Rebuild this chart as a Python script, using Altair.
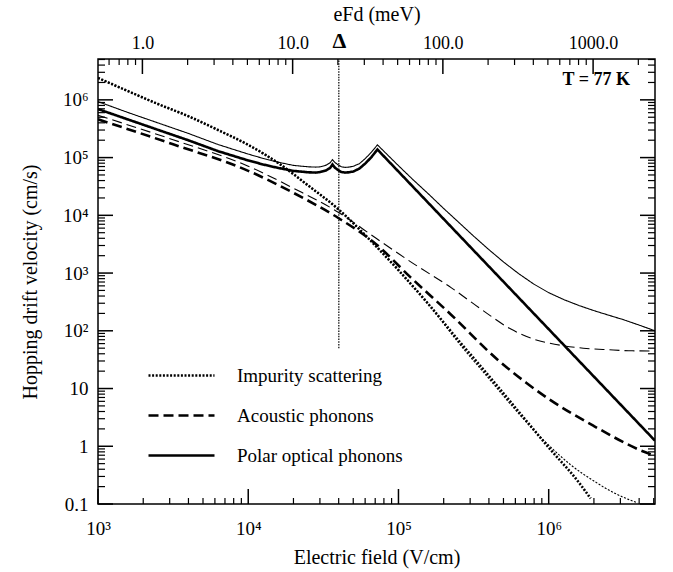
import altair as alt
import pandas as pd

# ---------------- data ----------------
mechanisms = ["Impurity scattering", "Acoustic phonons", "Polar optical phonons"]

imp_thick_E = [1e3, 1.6e3, 2.5e3, 4e3, 6.3e3, 1e4, 1.6e4, 2.5e4, 4e4, 6.3e4, 1e5, 1.6e5,
               2.5e5, 4e5, 6.3e5, 1e6, 1.6e6, 1.9e6]
imp_thick_V = [2.4e6, 1.4e6, 8.5e5, 5.2e5, 3.0e5, 1.66e5, 7.9e4, 3.3e4, 1.26e4, 4.0e3, 1.12e3, 280,
               69, 16.5, 4.0, 0.95, 0.23, 0.125]
imp_thin_E = [1e3, 1.6e3, 2.5e3, 4e3, 6.3e3, 1e4, 1.6e4, 2.5e4, 4e4, 6.3e4, 1e5, 1.6e5,
              2.5e5, 4e5, 6.3e5, 8.9e5, 1.12e6, 1.41e6, 2.0e6, 2.8e6, 3.9e6]
imp_thin_V = [2.4e6, 1.4e6, 8.5e5, 5.2e5, 3.0e5, 1.66e5, 7.9e4, 3.3e4, 1.26e4, 4.0e3, 1.12e3, 280,
              63, 14.8, 3.7, 1.41, 0.79, 0.47, 0.25, 0.15, 0.105]

ac_thick_E = [1e3, 3.16e3, 1e4, 2e4, 4e4, 7.1e4, 1.2e5, 2.24e5, 4.57e5, 7.08e5, 1e6, 2e6,
              4.27e6, 5.1e6]
ac_thick_V = [4.6e5, 1.7e5, 5.9e4, 2.45e4, 8.9e3, 3.16e3, 850, 190, 31.6, 12.6, 6.6, 2.24,
              0.81, 0.68]
ac_thin_E = [1e3, 3.16e3, 1e4, 2e4, 4e4, 7.1e4, 1.2e5, 2.24e5, 3.7e5, 5.6e5, 7.9e5, 1.12e6,
             1.7e6, 2.5e6, 3.6e6, 5.1e6]
ac_thin_V = [5.4e5, 2.04e5, 7.1e4, 2.95e4, 1.12e4, 4.0e3, 1.58e3, 560, 219, 107, 72, 58,
             50, 47, 45, 44.7]

pol_E_low = [1e3, 1.585e3, 2.512e3, 3.981e3, 6.31e3, 1e4, 1.259e4, 1.585e4, 1.995e4, 2.512e4,
             2.818e4, 3.02e4, 3.311e4, 3.508e4, 3.639e4, 3.758e4, 3.981e4, 4.169e4, 4.416e4,
             4.677e4, 5.012e4, 5.495e4, 6.026e4, 6.607e4, 7.244e4]
pol_thick_E = pol_E_low + [5.1e6]
pol_thick_V = [6.92e5, 4.57e5, 3.02e5, 2.0e5, 1.29e5, 8.91e4, 7.59e4, 6.61e4, 5.89e4, 5.56e4,
               5.5e4, 5.62e4, 6.03e4, 6.61e4, 7.59e4, 6.76e4, 6.03e4, 5.62e4, 5.5e4,
               5.56e4, 5.75e4, 6.46e4, 7.94e4, 1.02e5, 1.38e5, 1.25]
pol_thin_E = pol_E_low + [1e5, 1.259e5, 1.585e5, 1.995e5, 2.512e5, 3.162e5, 3.981e5, 5.012e5,
                          6.31e5, 7.943e5, 1e6, 1.259e6, 1.585e6, 1.995e6, 2.512e6, 3.162e6,
                          3.981e6, 5.1e6]
pol_thin_V = [9.33e5, 6.03e5, 3.98e5, 2.63e5, 1.68e5, 1.15e5, 9.66e4, 8.32e4, 7.33e4, 6.92e4,
              6.84e4, 6.92e4, 7.41e4, 8.13e4, 9.23e4, 8.32e4, 7.41e4, 6.92e4, 6.76e4,
              6.84e4, 7.08e4, 7.85e4, 9.66e4, 1.245e5, 1.66e5,
              7.24e4, 4.07e4, 2.34e4, 1.32e4, 7.6e3, 4.37e3, 2.57e3, 1.55e3,
              977, 646, 457, 347, 275, 224, 186, 155, 126, 100]

# axes / ticks
x_domain = [1e3, 5.1e6]
y_domain = [0.1, 5.1e6]
x_major = [1e3, 1e4, 1e5, 1e6]
x_major_labels = ["10³", "10⁴", "10⁵", "10⁶"]
x_minor = [k * 10 ** p for p in range(3, 7) for k in range(2, 10) if k * 10 ** p <= 5.1e6]
y_major = [0.1, 1, 10, 100, 1e3, 1e4, 1e5, 1e6]
y_major_labels = ["0.1", "1", "10", "10²", "10³", "10⁴", "10⁵", "10⁶"]
y_minor = [k * 10.0 ** p for p in range(-1, 7) for k in range(2, 10) if k * 10.0 ** p <= 5.1e6]

meV_per_unit = 1975.0          # V/cm corresponding to eFd = 1 meV
top_major_meV = [1, 10, 100, 1000]
top_major_labels = ["1.0", "10.0", "100.0", "1000.0"]
top_minor_meV = [0.6, 0.7, 0.8, 0.9] + [k * 10 ** p for p in range(0, 3) for k in range(2, 10)] + [2000]
delta_meV = 20.3
delta_line_bottom_V = 50

# ---------------- build tables ----------------
rows = []
def add(E, V, mech, variant):
    for e, v in zip(E, V):
        rows.append({"E": e, "V": v, "mech": mech, "variant": variant, "series": mech + variant})

add(imp_thick_E, imp_thick_V, mechanisms[0], "thick")
add(imp_thin_E, imp_thin_V, mechanisms[0], "thin")
add(ac_thick_E, ac_thick_V, mechanisms[1], "thick")
add(ac_thin_E, ac_thin_V, mechanisms[1], "thin")
add(pol_thick_E, pol_thick_V, mechanisms[2], "thick")
add(pol_thin_E, pol_thin_V, mechanisms[2], "thin")
df = pd.DataFrame(rows)

W, H = 557, 445
FONT = "Liberation Serif"

xs = alt.Scale(type="log", domain=x_domain, nice=False)
ys = alt.Scale(type="log", domain=y_domain, nice=False)


def lab_expr(values, labels):
    expr = "''"
    for v, l in reversed(list(zip(values, labels))):
        expr = f"abs(datum.value/{v} - 1) < 1e-6 ? '{l}' : ({expr})"
    return expr


dash = alt.StrokeDash(
    "mech:N",
    scale=alt.Scale(domain=mechanisms, range=[[2, 1.6], [10, 5], [1, 0]]),
    legend=alt.Legend(
        orient="none", legendX=71, legendY=304, title=None,
        symbolType="M-3,0H3", symbolSize=484, symbolStrokeWidth=2.4,
        symbolStrokeColor="black", symbolFillColor="transparent",
        labelFont=FONT, labelFontSize=19, labelColor="black", labelOffset=43,
        labelLimit=0, rowPadding=17, padding=0,
    ),
)
width_enc = alt.StrokeWidth("variant:N", scale=alt.Scale(domain=["thick", "thin"], range=[2.6, 1.1]),
                            legend=None)

bottom_axis = alt.Axis(values=x_major, labelExpr=lab_expr(x_major, x_major_labels), ticks=False,
                       domain=False, grid=False, labelFlush=False, labelOverlap=False,
                       labelFont=FONT, labelFontSize=19, labelColor="black", labelPadding=15,
                       title="Electric field  (V/cm)", titleFont=FONT, titleFontSize=20,
                       titleFontWeight="normal", titleColor="black", titlePadding=9)
left_axis = alt.Axis(values=y_major, labelExpr=lab_expr(y_major, y_major_labels), ticks=False,
                     domain=False, grid=False, labelFlush=False, labelOverlap=False,
                     labelFont=FONT, labelFontSize=19, labelColor="black", labelPadding=10,
                     title="Hopping drift velocity  (cm/s)", titleFont=FONT, titleFontSize=20,
                     titleFontWeight="normal", titleColor="black", titlePadding=22)

base = alt.Chart(df)
lines_other = base.transform_filter(alt.datum.mech != mechanisms[2]).mark_line(
    interpolate="monotone", clip=True, color="black").encode(
    x=alt.X("E:Q", scale=xs, axis=bottom_axis),
    y=alt.Y("V:Q", scale=ys, axis=left_axis),
    strokeDash=dash, strokeWidth=width_enc, detail="series:N",
)
lines_polar = base.transform_filter(alt.datum.mech == mechanisms[2]).mark_line(
    interpolate="linear", clip=True, color="black").encode(
    x=alt.X("E:Q", scale=xs, axis=None),
    y=alt.Y("V:Q", scale=ys, axis=None),
    strokeDash=dash, strokeWidth=width_enc, detail="series:N",
)

# top axis ticks (eFd)
top_major_df = pd.DataFrame({"E": [m * meV_per_unit for m in top_major_meV]})
top_minor_df = pd.DataFrame({"E": [m * meV_per_unit for m in top_minor_meV]})
delta_E = delta_meV * meV_per_unit
top_vals = [m * meV_per_unit for m in top_major_meV] + [delta_E]
top_labs = top_major_labels + ["Δ"]
top_axis = alt.Axis(orient="top", values=top_vals, labelExpr=lab_expr(top_vals, top_labs), ticks=False,
                    domain=False, grid=False, labelFlush=False, labelOverlap=False,
                    labelFont=FONT,
                    labelFontSize={"condition": {"test": f"abs(datum.value/{delta_E} - 1) < 1e-6", "value": 22},
                                   "value": 18},
                    labelFontWeight={"condition": {"test": f"abs(datum.value/{delta_E} - 1) < 1e-6", "value": "bold"},
                                     "value": "normal"},
                    labelColor="black", labelPadding=7,
                    title="eFd  (meV)", titleFont=FONT, titleFontSize=20, titleFontWeight="normal",
                    titleColor="black", titlePadding=5)

top_major = alt.Chart(top_major_df).mark_rule(color="black", strokeWidth=1.5).encode(
    x=alt.X("E:Q", scale=xs, axis=top_axis), y=alt.value(0), y2=alt.value(15))
top_minor = alt.Chart(top_minor_df).mark_rule(color="black", strokeWidth=1.2).encode(
    x=alt.X("E:Q", scale=xs, axis=None), y=alt.value(0), y2=alt.value(6))

bx_major = alt.Chart(pd.DataFrame({"E": x_major})).mark_rule(color="black", strokeWidth=1.5).encode(
    x=alt.X("E:Q", scale=xs, axis=None), y=alt.value(H), y2=alt.value(H - 15))
bx_minor = alt.Chart(pd.DataFrame({"E": x_minor})).mark_rule(color="black", strokeWidth=1.2).encode(
    x=alt.X("E:Q", scale=xs, axis=None), y=alt.value(H), y2=alt.value(H - 6))

ly_major = alt.Chart(pd.DataFrame({"V": y_major})).mark_rule(color="black", strokeWidth=1.5).encode(
    y=alt.Y("V:Q", scale=ys, axis=None), x=alt.value(0), x2=alt.value(15))
ly_minor = alt.Chart(pd.DataFrame({"V": y_minor})).mark_rule(color="black", strokeWidth=1.2).encode(
    y=alt.Y("V:Q", scale=ys, axis=None), x=alt.value(0), x2=alt.value(7))
ry_major = alt.Chart(pd.DataFrame({"V": y_major})).mark_rule(color="black", strokeWidth=1.5).encode(
    y=alt.Y("V:Q", scale=ys, axis=None), x=alt.value(W), x2=alt.value(W - 15))
ry_minor = alt.Chart(pd.DataFrame({"V": y_minor})).mark_rule(color="black", strokeWidth=1.2).encode(
    y=alt.Y("V:Q", scale=ys, axis=None), x=alt.value(W), x2=alt.value(W - 7))

delta_line = alt.Chart(pd.DataFrame({"E": [delta_E], "V": [delta_line_bottom_V]})).mark_rule(
    color="black", strokeWidth=1.2, strokeDash=[1.5, 1.2]).encode(
    x=alt.X("E:Q", scale=xs, axis=None), y=alt.Y("V:Q", scale=ys, axis=None), y2=alt.value(0))

temp_text = alt.Chart(pd.DataFrame({"t": ["T = 77 K"]})).mark_text(
    align="right", baseline="middle", font=FONT, fontSize=18, fontWeight="bold", color="black").encode(
    text="t:N", x=alt.value(532), y=alt.value(21))

chart = alt.layer(
    lines_other, lines_polar, top_major, top_minor, bx_major, bx_minor,
    ly_major, ly_minor, ry_major, ry_minor, delta_line, temp_text,
).resolve_axis(x="independent", y="independent").properties(
    width=W, height=H,
    autosize=alt.AutoSizeParams(type="none"),
    padding={"left": 98, "top": 59, "right": 18, "bottom": 68},
    background="white",
).configure_view(stroke="black", strokeWidth=1.5)

chart.save("out.html", embed_options={"renderer": "svg", "actions": False})
